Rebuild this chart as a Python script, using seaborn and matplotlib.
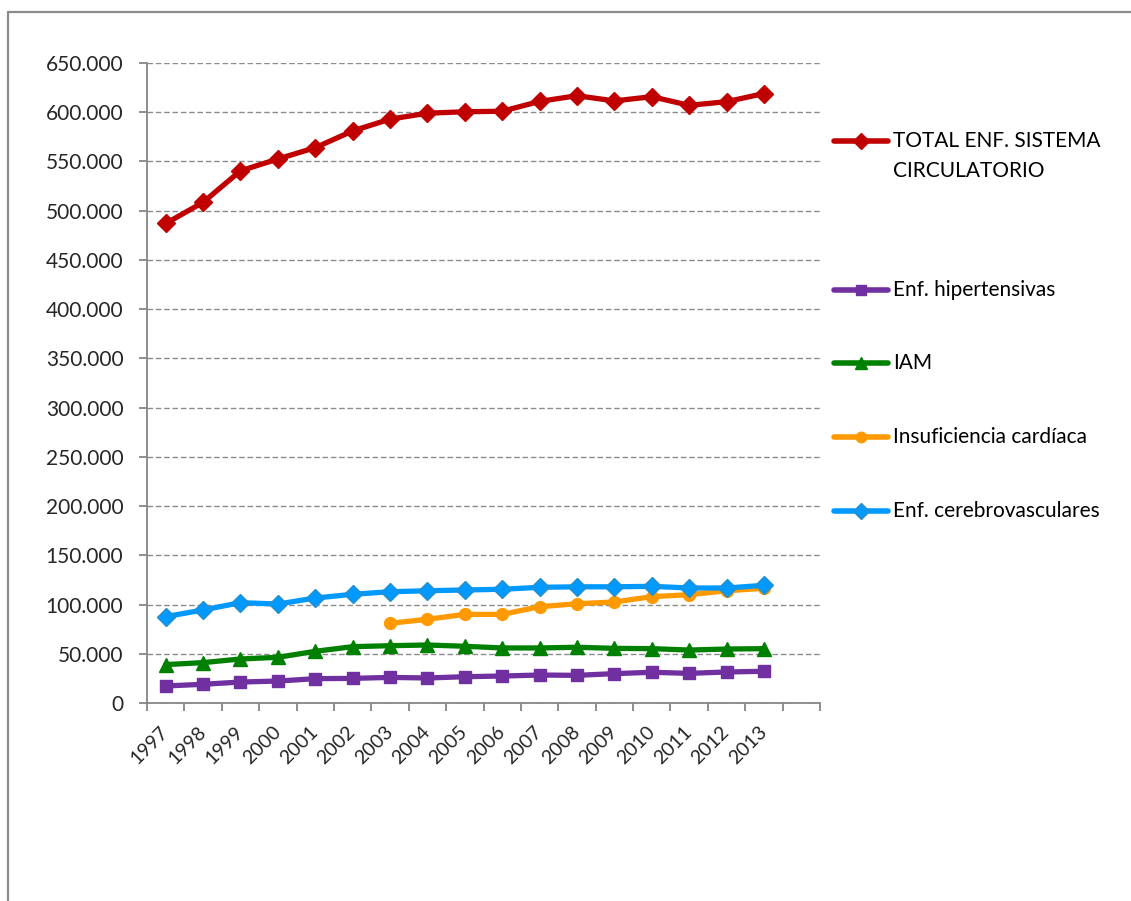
import numpy as np
import pandas as pd
import matplotlib
matplotlib.use("Agg")
import matplotlib.pyplot as plt
from matplotlib.lines import Line2D
from matplotlib.ticker import FuncFormatter, FixedLocator
import seaborn as sns

# Hospital discharges by circulatory disease group, 1997-2013
years = [str(y) for y in range(1997, 2014)]

total_circulatorio = [487000, 508500, 540500, 552500, 564000, 581000, 593000, 599000,
                      600500, 601000, 611000, 616800, 611500, 615800, 607000, 610700, 619000]
hipertensivas = [17300, 19000, 21300, 22300, 24700, 25000, 26000, 25400,
                 26700, 27400, 28400, 28100, 29800, 31200, 30100, 31500, 32200]
iam = [39000, 41000, 44700, 46400, 52500, 57200, 58200, 58900,
       57600, 55900, 55900, 56600, 55500, 55200, 53800, 54800, 55200]
insuficiencia = [np.nan, np.nan, np.nan, np.nan, np.nan, np.nan, 81000, 85000,
                 90000, 90000, 97800, 100800, 102600, 108000, 110000, 114000, 116500]
cerebrovasculares = [87700, 94500, 101900, 100500, 106600, 110400, 113000, 114000,
                     114800, 115500, 117500, 118000, 118000, 118500, 116800, 116800, 119500]

series = [
    ("TOTAL ENF. SISTEMA\nCIRCULATORIO", total_circulatorio, "#C00000", "D", 9.5, "#C00000"),
    ("Enf. hipertensivas", hipertensivas, "#7030A0", "s", 8.5, "#7030A0"),
    ("IAM", iam, "#008000", "^", 10, "#008000"),
    ("Insuficiencia cardíaca", insuficiencia, "#FF9900", "o", 8.5, "#FF9900"),
    ("Enf. cerebrovasculares", cerebrovasculares, "#0099FF", "D", 9.5, "#2A8FC4"),
]

sns.set_theme(style="white")
plt.rcParams["font.family"] = ["Lato", "DejaVu Sans"]

W, H = 1131, 901
fig = plt.figure(figsize=(W / 100, H / 100), dpi=100)
fig.patch.set_facecolor("white")
ax = fig.add_axes([147 / W, 1 - 703 / H, (820 - 147) / W, (703 - 63) / H])

x_pos = np.arange(len(years))
for label, values, color, marker, ms, edge in series:
    df = pd.DataFrame({"x": x_pos, "y": values}).dropna()
    sns.lineplot(data=df, x="x", y="y", ax=ax, color=color, linewidth=3.8,
                 marker=marker, markersize=ms, markeredgecolor=edge,
                 markeredgewidth=1, legend=False, zorder=3)

# Category axis with one spare slot at the end
n_slots = len(years) + 1
ax.set_xlim(-0.5, n_slots - 0.5)
ax.set_ylim(0, 650000)

ax.xaxis.set_major_locator(FixedLocator(np.arange(-0.5, n_slots, 1.0)))
ax.xaxis.set_minor_locator(FixedLocator(x_pos))
ax.set_xticklabels([])
ax.set_xticklabels(years, minor=True, rotation=45, ha="right",
                   rotation_mode="anchor", fontsize=14)
ax.tick_params(axis="x", which="major", direction="out", length=6, width=1.3,
               color="#868686", bottom=True)
ax.tick_params(axis="x", which="minor", length=0, pad=19, bottom=True)
for lbl in ax.get_xticklabels(minor=True):
    lbl.set_verticalalignment("center")

ax.set_yticks(np.arange(0, 650001, 50000))
ax.yaxis.set_major_formatter(FuncFormatter(
    lambda v, p: "0" if v == 0 else f"{int(v):,}".replace(",", ".")))
ax.tick_params(axis="y", direction="out", length=6, width=1.3, color="#868686",
               labelsize=15, pad=11, left=True)

ax.set_xlabel("")
ax.set_ylabel("")

ax.yaxis.grid(True, color="#8C8C8C", linestyle=(0, (4, 2)), linewidth=1)
ax.xaxis.grid(False)
ax.set_axisbelow(True)
for side in ("top", "right"):
    ax.spines[side].set_visible(False)
for side in ("left", "bottom"):
    ax.spines[side].set_color("#868686")
    ax.spines[side].set_linewidth(1.3)

# Legend entries placed down the right side
def fx(px):
    return px / W

def fy(py):
    return 1 - py / H

legend_y = [141, 290, 363, 437, 511]
for (label, values, color, marker, ms, edge), yy in zip(series, legend_y):
    fig.add_artist(Line2D([fx(834), fx(888)], [fy(yy), fy(yy)], color=color,
                          linewidth=4, solid_capstyle="round"))
    fig.add_artist(Line2D([fx(861)], [fy(yy)], color=color, marker=marker,
                          markersize=ms - 1, markeredgecolor=edge, linestyle="none"))
    lines = label.split("\n")
    for i, line in enumerate(lines):
        fig.text(fx(893), fy(yy + 30 * i), line, fontsize=15, color="black",
                 ha="left", va="center")

# Chart area frame
fig.add_artist(Line2D([fx(8), fx(1140)], [fy(12), fy(12)], color="#8C8C8C", linewidth=1.6))
fig.add_artist(Line2D([fx(8), fx(8)], [fy(12), fy(905)], color="#8C8C8C", linewidth=1.6))

fig.savefig("out.png", dpi=100, facecolor="white")
